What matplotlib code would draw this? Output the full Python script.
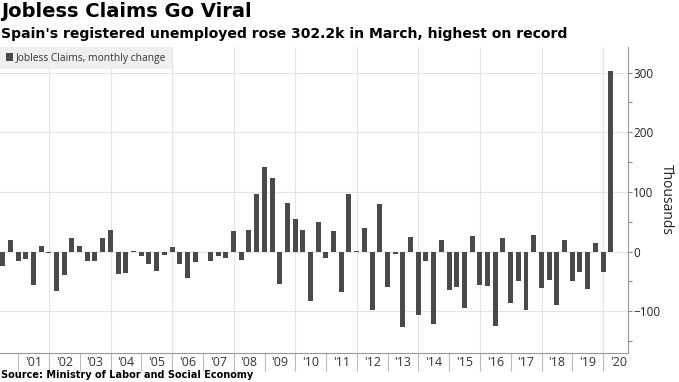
import numpy as np
import pandas as pd
import matplotlib
matplotlib.use("Agg")
import matplotlib.pyplot as plt
import matplotlib.dates as mdates
from matplotlib.ticker import MultipleLocator, NullFormatter, FuncFormatter

# quarterly readings, Jun 2000 .. Mar 2020 (thousands)
start = "2000-06"
values = [-25, 20, -15, -12, -56, 10, -2, -66, -40, 22, 10, -16, -15, 22, 37,
          -38, -36, 1, -8, -21, -32, -6, 7, -21, -45, -17, -1, -15, -7, -10,
          35, -14, 37, 96, 141, 123, -55, 81, 55, 36, -83, 49, -11, 34, -67,
          96, 1, 39, -98, 80, -59, -4, -127, 25, -107, -16, -122, 20, -64,
          -60, -95, 26, -56, -58, -124, 22, -87, -49, -98, 28, -61, -47, -90,
          20, -50, -35, -63, 14, -34, 302.2]
dates = pd.date_range(start, periods=len(values), freq="3MS") + pd.offsets.MonthEnd(0)

title = "Jobless Claims Go Viral"
subtitle = "Spain's registered unemployed rose 302.2k in March, highest on record"
source = "Source: Ministry of Labor and Social Economy"
series_name = "Jobless Claims, monthly change"

bar_color = "#4a4a4a"
grid_color = "#e4e4e4"

fig = plt.figure(figsize=(6.79, 3.82), dpi=100)
ax = fig.add_axes([0.0, 0.076, 0.9245, 0.801])

ax.bar(dates, values, width=59, color=bar_color, label=series_name, zorder=3)

ax.set_xlim(pd.Timestamp("2000-05-30"), pd.Timestamp("2020-10-19"))
ax.set_ylim(-170, 343)

# y axis on the right
ax.yaxis.tick_right()
ax.yaxis.set_label_position("right")
ax.yaxis.set_major_locator(MultipleLocator(100))
ax.yaxis.set_minor_locator(MultipleLocator(50))
ax.tick_params(axis="y", which="both", direction="out", length=3, width=0.8,
               color="#888888", labelsize=8.5, pad=1, labelcolor="#222222")
ax.set_ylabel("Thousands", rotation=270, labelpad=10, fontsize=10,
              family="Open Sans", color="#222222")
for lbl in ax.get_yticklabels():
    lbl.set_family("Open Sans")


def year_label(x, pos):
    d = mdates.num2date(x)
    if d.year < 2001:
        return ""
    return d.strftime("'%y")


# x axis: boundaries at years, labels mid-year
ax.xaxis.set_major_locator(mdates.YearLocator())
ax.xaxis.set_major_formatter(NullFormatter())
ax.xaxis.set_minor_locator(mdates.MonthLocator(bymonth=7, bymonthday=1))
ax.xaxis.set_minor_formatter(FuncFormatter(year_label))
ax.tick_params(axis="x", which="major", direction="out", length=13, width=0.8,
               color="#bbbbbb")
ax.tick_params(axis="x", which="minor", length=0, labelsize=9, pad=2,
               labelcolor="#333333")
for lbl in ax.xaxis.get_minorticklabels():
    lbl.set_family("Open Sans")

ax.grid(axis="y", which="major", color=grid_color, linewidth=0.8, zorder=0)
for yr in range(2002, 2021, 2):
    ax.axvline(pd.Timestamp(f"{yr}-01-01"), color=grid_color, linewidth=0.8, zorder=0)

for side in ["top", "left"]:
    ax.spines[side].set_visible(False)
ax.spines["right"].set_color("#999999")
ax.spines["bottom"].set_color("#999999")

leg = ax.legend(loc="upper left", borderaxespad=0, frameon=True, fancybox=False,
                handlelength=0.7, handleheight=0.7, handletextpad=0.3,
                borderpad=0.55, prop={"family": "Open Sans", "size": 7.4})
leg.get_frame().set_facecolor("#efefef")
leg.get_frame().set_edgecolor("none")
leg.get_frame().set_alpha(1)
for t in leg.get_texts():
    t.set_color("#333333")

fig.text(0.002, 0.995, title, fontsize=14, fontweight="bold", va="top",
         family="DejaVu Sans", color="#000000")
fig.text(0.002, 0.93, subtitle, fontsize=10.1, fontweight="bold", va="top",
         family="DejaVu Sans", color="#000000")
fig.text(0.002, 0.004, source, fontsize=7, fontweight="bold", va="bottom",
         family="DejaVu Sans", color="#000000")

fig.savefig("out.png", dpi=100)
